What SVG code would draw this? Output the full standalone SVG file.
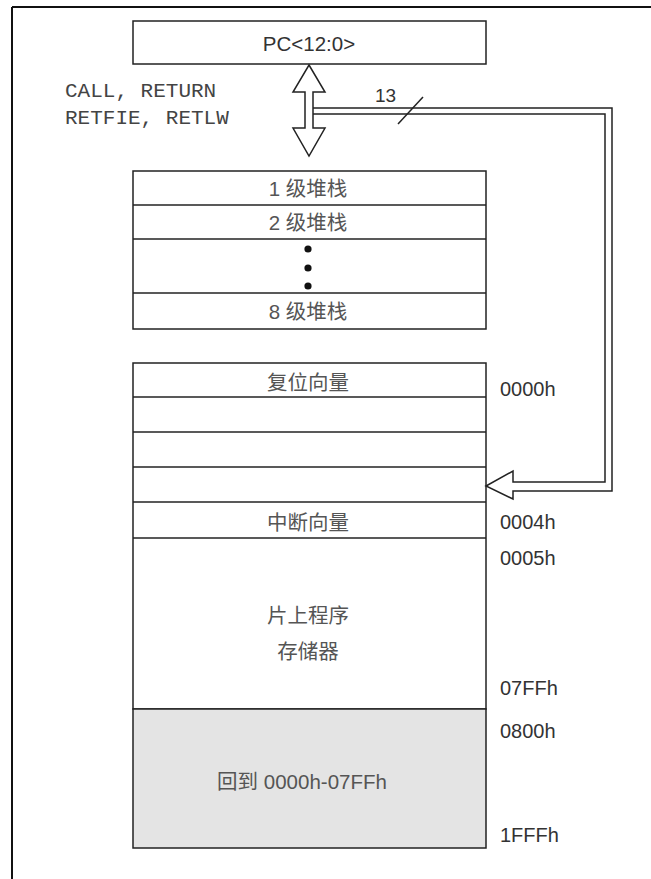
<svg xmlns="http://www.w3.org/2000/svg" width="651" height="879" viewBox="0 0 651 879">
<style>
.box{fill:#fff;stroke:#222;stroke-width:1.5}
.ln{stroke:#222;stroke-width:1.5;fill:none}
.cjk{font-family:"Liberation Sans","Noto Sans CJK SC",sans-serif;font-size:20.5px;fill:#555;text-anchor:middle}
.addr{font-family:"Liberation Sans",Arial,sans-serif;font-size:20px;fill:#333}
.mono{font-family:"Liberation Mono","Courier New",monospace;font-size:21px;fill:#444}
</style>
<rect width="651" height="879" fill="#fff"/>
<g id="frame">
<line x1="12" y1="7" x2="651" y2="7" stroke="#111" stroke-width="2"/>
<line x1="12" y1="7" x2="12" y2="879" stroke="#111" stroke-width="2"/>
</g>
<g id="pc">
<rect class="box" x="133" y="21" width="353" height="43"/>
<text x="309" y="51" text-anchor="middle" font-family="Liberation Sans, Arial, sans-serif" font-size="20.5" fill="#333">PC&lt;12:0&gt;</text>
</g>
<g id="labels">
<text class="mono" x="65" y="97">CALL, RETURN</text>
<text class="mono" x="65" y="124">RETFIE, RETLW</text>
</g>
<g id="stack">
<rect class="box" x="133" y="171" width="353" height="158"/>
<line class="ln" x1="133" y1="205" x2="486" y2="205"/>
<line class="ln" x1="133" y1="239" x2="486" y2="239"/>
<line class="ln" x1="133" y1="293" x2="486" y2="293"/>
<text class="cjk" x="308" y="196">1 级堆栈</text>
<text class="cjk" x="308" y="230">2 级堆栈</text>
<circle cx="308" cy="249" r="3.6" fill="#111"/>
<circle cx="308" cy="268" r="3.6" fill="#111"/>
<circle cx="308" cy="286" r="3.6" fill="#111"/>
<text class="cjk" x="308" y="319">8 级堆栈</text>
</g>
<g id="memory">
<rect class="box" x="133" y="363" width="353" height="346"/>
<rect x="133" y="709" width="353" height="139" fill="#e4e4e4" stroke="#222" stroke-width="1.5"/>
<line class="ln" x1="133" y1="397" x2="486" y2="397"/>
<line class="ln" x1="133" y1="432" x2="486" y2="432"/>
<line class="ln" x1="133" y1="467" x2="486" y2="467"/>
<line class="ln" x1="133" y1="502" x2="486" y2="502"/>
<line class="ln" x1="133" y1="538" x2="486" y2="538"/>
<text class="cjk" x="308" y="390">复位向量</text>
<text class="cjk" x="308" y="530">中断向量</text>
<text class="cjk" x="308" y="623">片上程序</text>
<text class="cjk" x="308" y="659">存储器</text>
<text class="cjk" x="302" y="789">回到 0000h-07FFh</text>
<text class="addr" x="500" y="396">0000h</text>
<text class="addr" x="500" y="529">0004h</text>
<text class="addr" x="500" y="565">0005h</text>
<text class="addr" x="500" y="695">07FFh</text>
<text class="addr" x="500" y="738">0800h</text>
<text class="addr" x="500" y="842">1FFFh</text>
</g>
<g id="connectors">
<path class="ln" d="M309,65 L325,92 L313,92 L313,128 L325,128 L309,156 L293,128 L305,128 L305,92 L293,92 Z" style="fill:#fff"/>
<polyline class="ln" points="313,108 612,108 612,491 513,491 513,499 486,486 513,471 513,482 605,482 605,114 313,114"/>
<line class="ln" x1="398" y1="124" x2="423" y2="97"/>
<text x="375" y="102" font-family="Liberation Sans, Arial, sans-serif" font-size="19" fill="#333">13</text>
</g>
</svg>
